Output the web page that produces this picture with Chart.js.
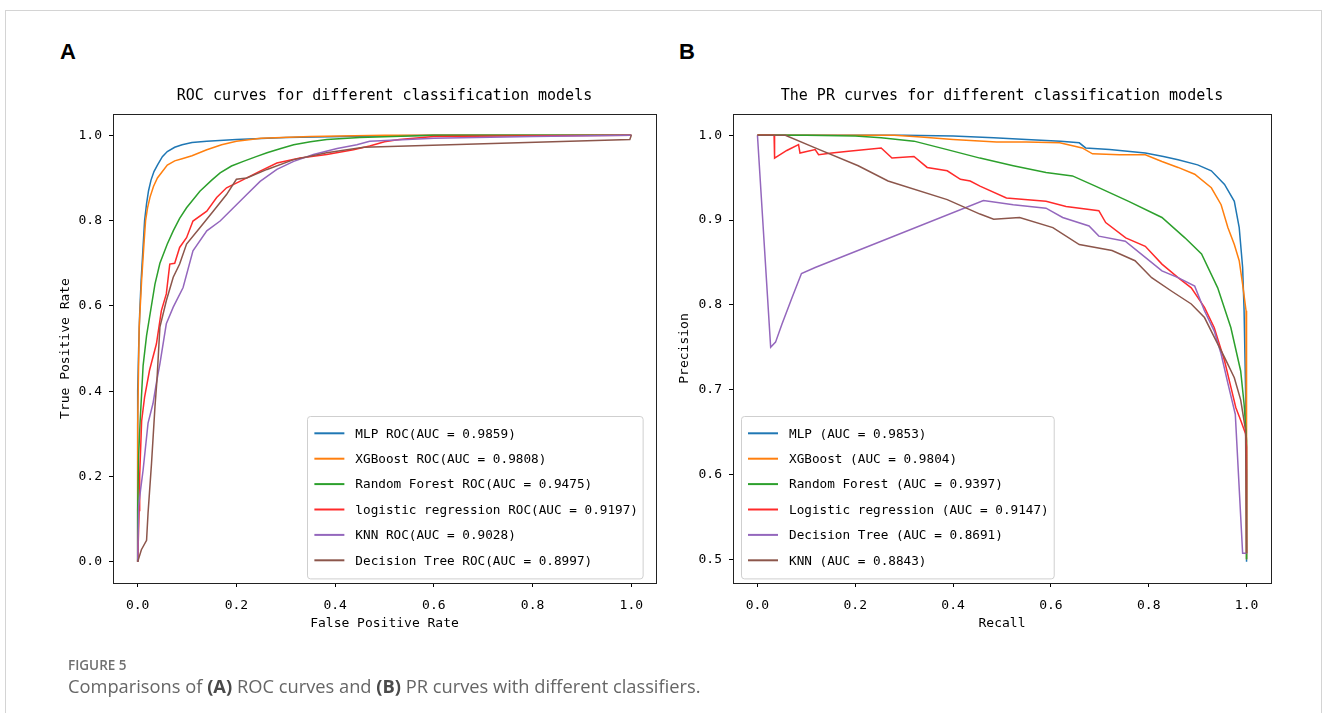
<!DOCTYPE html>
<html>
<head>
<meta charset="utf-8">
<script src="https://cdn.jsdelivr.net/npm/chart.js@4.4.1/dist/chart.umd.min.js"></script>
<style>
  body { margin: 0; background: #fff; width: 1330px; height: 713px; overflow: hidden; position: relative; }
  #frame { position: absolute; left: 5px; top: 10px; width: 1315px; height: 720px; border: 1px solid #d4d4d4; }
  .letter { position: absolute; top: 39px; font: bold 22px "Liberation Sans", Arial, sans-serif; color: #000; }
  .box { position: absolute; top: 70px; }
  #fig { position: absolute; left: 68px; top: 656px; font: 600 13.5px "Open Sans", sans-serif; color: #707070; }
  #cap { position: absolute; left: 68px; top: 673px; font: 18.3px "Open Sans", sans-serif; color: #666; }
  #cap b { font-weight: 700; color: #4a4a4a; }
</style>
</head>
<body>
<div id="frame"></div>
<div class="letter" style="left:60px">A</div>
<div class="letter" style="left:679px">B</div>
<div class="box" style="left:20px"><canvas id="rocChart" width="650" height="590"></canvas></div>
<div class="box" style="left:670px"><canvas id="prChart" width="640" height="590"></canvas></div>
<div id="fig">FIGURE 5</div>
<div id="cap">Comparisons of <b>(A)</b> ROC curves and <b>(B)</b> PR curves with different classifiers.</div>

<script>
// ---- data ----
var axisTicks = [0, 0.2, 0.4, 0.6, 0.8, 1.0];
var prYTicks = [0.5, 0.6, 0.7, 0.8, 0.9, 1.0];

var rocLabels = ['MLP ROC(AUC = 0.9859)', 'XGBoost ROC(AUC = 0.9808)', 'Random Forest ROC(AUC = 0.9475)',
                 'logistic regression ROC(AUC = 0.9197)', 'KNN ROC(AUC = 0.9028)', 'Decision Tree ROC(AUC = 0.8997)'];
var prLabels = ['MLP (AUC = 0.9853)', 'XGBoost (AUC = 0.9804)', 'Random Forest (AUC = 0.9397)',
                'Logistic regression (AUC = 0.9147)', 'Decision Tree (AUC = 0.8691)', 'KNN (AUC = 0.8843)'];
var colors = ['#1f77b4', '#ff7f0e', '#2ca02c', '#ff2a2a', '#9467bd', '#8c564b'];

// ROC curves (false positive rate / true positive rate)
var mlpFpr = [0, 0, 0.002, 0.004, 0.007, 0.01, 0.014, 0.018, 0.022, 0.027, 0.033, 0.04, 0.05, 0.06, 0.075, 0.09, 0.11, 0.14, 0.2, 0.3, 0.45, 0.6, 1.0];
var mlpTpr = [0, 0.4, 0.5, 0.58, 0.66, 0.72, 0.80, 0.84, 0.87, 0.895, 0.915, 0.93, 0.95, 0.962, 0.972, 0.978, 0.983, 0.986, 0.99, 0.995, 0.998, 1.0, 1.0];
var xgbFpr = [0, 0, 0.003, 0.008, 0.013, 0.016, 0.02, 0.025, 0.032, 0.04, 0.05, 0.06, 0.075, 0.09, 0.11, 0.14, 0.17, 0.2, 0.25, 0.35, 0.5, 1.0];
var xgbTpr = [0, 0.32, 0.55, 0.66, 0.75, 0.80, 0.83, 0.855, 0.88, 0.90, 0.915, 0.93, 0.94, 0.945, 0.952, 0.966, 0.978, 0.986, 0.993, 0.997, 1.0, 1.0];
var rfFpr = [0, 0, 0.002, 0.005, 0.011, 0.018, 0.024, 0.035, 0.045, 0.06, 0.072, 0.085, 0.099, 0.126, 0.15, 0.167, 0.19, 0.214, 0.24, 0.262, 0.29, 0.316, 0.35, 0.383, 0.45, 0.6, 1.0];
var rfTpr = [0, 0.12, 0.25, 0.33, 0.46, 0.53, 0.573, 0.651, 0.70, 0.745, 0.776, 0.805, 0.83, 0.869, 0.895, 0.912, 0.928, 0.939, 0.95, 0.959, 0.969, 0.978, 0.985, 0.99, 0.995, 1.0, 1.0];
var lrFpr = [0, 0.003, 0.004, 0.008, 0.014, 0.024, 0.038, 0.048, 0.058, 0.065, 0.075, 0.085, 0.099, 0.112, 0.14, 0.16, 0.18, 0.207, 0.248, 0.282, 0.329, 0.383, 0.437, 0.47, 0.5, 0.53, 0.6, 1.0];
var lrTpr = [0, 0.12, 0.2, 0.33, 0.386, 0.449, 0.511, 0.589, 0.628, 0.698, 0.70, 0.737, 0.76, 0.799, 0.822, 0.854, 0.877, 0.892, 0.916, 0.935, 0.947, 0.955, 0.966, 0.975, 0.985, 0.99, 0.997, 1.0];
var knnFpr = [0, 0.002, 0.006, 0.011, 0.021, 0.031, 0.038, 0.045, 0.058, 0.072, 0.092, 0.112, 0.14, 0.167, 0.194, 0.221, 0.248, 0.282, 0.316, 0.356, 0.404, 0.444, 0.47, 0.6, 0.8, 1.0];
var knnTpr = [0, 0.13, 0.17, 0.215, 0.325, 0.371, 0.42, 0.464, 0.558, 0.597, 0.643, 0.729, 0.776, 0.799, 0.83, 0.861, 0.892, 0.92, 0.939, 0.955, 0.969, 0.978, 0.986, 0.993, 0.997, 1.0];
var dtFpr = [0, 0.0075, 0.018, 0.021, 0.028, 0.035, 0.039, 0.045, 0.058, 0.072, 0.085, 0.099, 0.126, 0.153, 0.18, 0.2, 0.221, 0.262, 0.316, 0.383, 0.458, 0.997, 1.0];
var dtTpr = [0, 0.028, 0.05, 0.114, 0.23, 0.363, 0.425, 0.55, 0.612, 0.667, 0.698, 0.745, 0.783, 0.822, 0.861, 0.897, 0.90, 0.92, 0.943, 0.959, 0.972, 0.99, 1.0];

// PR curves (recall / precision)
var mlpRec = [0, 0.1, 0.2, 0.3, 0.4, 0.483, 0.55, 0.62, 0.658, 0.671, 0.72, 0.793, 0.83, 0.86, 0.9, 0.928, 0.955, 0.975, 0.985, 0.992, 0.995, 0.998, 1.0, 1.0];
var mlpPrec = [1, 1, 1, 1, 0.999, 0.997, 0.995, 0.993, 0.991, 0.985, 0.983, 0.979, 0.975, 0.971, 0.965, 0.958, 0.942, 0.922, 0.891, 0.844, 0.793, 0.70, 0.60, 0.497];
var xgbRec = [0, 0.1, 0.2, 0.28, 0.334, 0.40, 0.489, 0.55, 0.618, 0.664, 0.685, 0.74, 0.793, 0.827, 0.86, 0.894, 0.928, 0.948, 0.962, 0.975, 0.985, 0.992, 0.999, 1.0, 1.0];
var xgbPrec = [1, 1, 1, 1, 0.998, 0.995, 0.992, 0.992, 0.991, 0.985, 0.978, 0.977, 0.977, 0.969, 0.962, 0.954, 0.938, 0.918, 0.891, 0.871, 0.852, 0.824, 0.793, 0.65, 0.50];
var rfRec = [0, 0.1, 0.2, 0.253, 0.32, 0.388, 0.455, 0.523, 0.59, 0.644, 0.691, 0.759, 0.827, 0.874, 0.908, 0.941, 0.968, 0.988, 0.995, 1.0, 1.0];
var rfPrec = [1, 1, 0.999, 0.997, 0.993, 0.983, 0.973, 0.964, 0.956, 0.952, 0.94, 0.922, 0.903, 0.879, 0.86, 0.82, 0.773, 0.722, 0.683, 0.64, 0.5];
var lrRec = [0, 0.034, 0.035, 0.06, 0.084, 0.087, 0.118, 0.125, 0.152, 0.186, 0.253, 0.275, 0.32, 0.347, 0.388, 0.415, 0.435, 0.455, 0.509, 0.59, 0.631, 0.698, 0.712, 0.753, 0.793, 0.827, 0.86, 0.887, 0.914, 0.934, 0.955, 0.968, 0.978, 0.988, 0.998, 1.0, 1.0];
var lrPrec = [1, 1, 0.973, 0.982, 0.989, 0.979, 0.983, 0.977, 0.979, 0.981, 0.985, 0.973, 0.975, 0.962, 0.958, 0.948, 0.946, 0.94, 0.926, 0.922, 0.916, 0.911, 0.897, 0.879, 0.869, 0.848, 0.832, 0.82, 0.797, 0.773, 0.734, 0.703, 0.679, 0.664, 0.648, 0.632, 0.507];
var dtRec = [0, 0.027, 0.037, 0.05, 0.071, 0.09, 0.118, 0.253, 0.462, 0.523, 0.59, 0.624, 0.678, 0.698, 0.752, 0.793, 0.827, 0.86, 0.894, 0.914, 0.934, 0.948, 0.962, 0.972, 0.977, 0.992, 1.0];
var dtPrec = [1, 0.75, 0.756, 0.777, 0.809, 0.837, 0.844, 0.875, 0.923, 0.918, 0.914, 0.903, 0.893, 0.881, 0.875, 0.856, 0.84, 0.832, 0.822, 0.793, 0.769, 0.742, 0.707, 0.683, 0.671, 0.507, 0.507];
var knnRec = [0, 0.057, 0.118, 0.206, 0.267, 0.388, 0.455, 0.483, 0.536, 0.604, 0.658, 0.725, 0.772, 0.806, 0.847, 0.887, 0.914, 0.934, 0.955, 0.975, 0.988, 0.998, 1.0];
var knnPrec = [1, 1, 0.985, 0.964, 0.946, 0.924, 0.907, 0.901, 0.903, 0.891, 0.871, 0.864, 0.852, 0.832, 0.816, 0.801, 0.785, 0.762, 0.738, 0.714, 0.688, 0.652, 0.507];

var MONO = '"DejaVu Sans Mono", "Liberation Mono", monospace';

function pts(xs, ys) {
    return xs.map(function (v, i) { return {x: v, y: ys[i]}; });
}

function makeDatasets(labels, curves) {
    return labels.map(function (label, i) {
        return {
            label: label,
            data: pts(curves[i][0], curves[i][1]),
            borderColor: colors[i],
            backgroundColor: colors[i],
            borderWidth: 1.5,
            pointRadius: 0,
            fill: false,
            tension: 0,
            order: labels.length - i   // first series at the bottom, like matplotlib
        };
    });
}

function axis(title, min, max, ticks, size, vertical) {
    return {
        type: 'linear',
        min: min,
        max: max,
        afterBuildTicks: function (s) { s.ticks = ticks.map(function (v) { return {value: v}; }); },
        afterFit: function (s) { if (vertical) s.width = size; else s.height = size; },
        ticks: {
            color: '#000', font: {family: MONO, size: 13}, padding: vertical ? 7 : 11,
            autoSkip: false, maxRotation: 0,
            callback: function (v) { return Number(v).toFixed(1); }
        },
        grid: {drawOnChartArea: false, drawTicks: true, tickLength: 4, color: '#000'},
        border: {display: false},
        title: {display: true, text: title, color: '#000', font: {family: MONO, size: 13}, padding: 0}
    };
}

// plot frame, title above the axes and the matplotlib-style legend inside them
var panelPlugin = {
    id: 'panel',
    afterDraw: function (chart, args, o) {
        var ctx = chart.ctx, a = chart.chartArea;
        ctx.save();
        ctx.strokeStyle = '#222';
        ctx.lineWidth = 1;
        ctx.strokeRect(Math.round(a.left) + 0.5, Math.round(a.top) + 0.5,
                       Math.round(a.right - a.left), Math.round(a.bottom - a.top));

        ctx.fillStyle = '#000';
        ctx.font = '15px ' + MONO;
        ctx.textAlign = 'center';
        ctx.textBaseline = 'middle';
        ctx.fillText(o.title, (a.left + a.right) / 2, a.top - 18);

        ctx.font = '12.7px ' + MONO;
        var sets = chart.data.datasets;
        var textW = Math.max.apply(null, sets.map(function (d) { return ctx.measureText(d.label).width; }));
        var pad = 7, lineLen = 30, gap = 11, rowH = 25.4;
        var w = pad + lineLen + gap + textW + 5;
        var h = 10 + rowH * sets.length;
        var x = o.legendSide === 'right' ? a.right - o.legendDx - w : a.left + o.legendDx;
        var y = a.bottom - o.legendDy - h;
        ctx.fillStyle = 'rgba(255,255,255,0.85)';
        ctx.strokeStyle = '#cfcfcf';
        ctx.beginPath();
        if (ctx.roundRect) ctx.roundRect(Math.round(x) + 0.5, Math.round(y) + 0.5, w, h, 3);
        else ctx.rect(Math.round(x) + 0.5, Math.round(y) + 0.5, w, h);
        ctx.fill();
        ctx.stroke();

        ctx.textAlign = 'left';
        sets.forEach(function (d, i) {
            var cy = y + 5 + rowH * (i + 0.5);
            ctx.strokeStyle = d.borderColor;
            ctx.lineWidth = 2;
            ctx.beginPath();
            ctx.moveTo(x + pad, cy);
            ctx.lineTo(x + pad + lineLen, cy);
            ctx.stroke();
            ctx.fillStyle = '#000';
            ctx.fillText(d.label, x + pad + lineLen + gap, cy + 1);
        });
        ctx.restore();
    }
};

function buildChart(id, datasets, xAxis, yAxis, padding, panel) {
    return new Chart(document.getElementById(id).getContext('2d'), {
        type: 'line',
        data: {datasets: datasets},
        options: {
            responsive: false,
            animation: false,
            devicePixelRatio: 1,
            layout: {padding: padding},
            scales: {x: xAxis, y: yAxis},
            plugins: {
                legend: {display: false},
                tooltip: {enabled: false},
                panel: panel
            }
        },
        plugins: [panelPlugin]
    });
}

document.addEventListener('DOMContentLoaded', function () {
    buildChart('rocChart',
        makeDatasets(rocLabels, [[mlpFpr, mlpTpr], [xgbFpr, xgbTpr], [rfFpr, rfTpr], [lrFpr, lrTpr], [knnFpr, knnTpr], [dtFpr, dtTpr]]),
        axis('False Positive Rate', -0.05, 1.05, axisTicks, 48, false),
        axis('True Positive Rate', -0.05, 1.05, axisTicks, 55, true),
        {left: 38, right: 14, top: 44, bottom: 29},
        {title: 'ROC curves for different classification models', legendSide: 'right', legendDx: 13, legendDy: 5});

    buildChart('prChart',
        makeDatasets(prLabels, [[mlpRec, mlpPrec], [xgbRec, xgbPrec], [rfRec, rfPrec], [lrRec, lrPrec], [dtRec, dtPrec], [knnRec, knnPrec]]),
        axis('Recall', -0.05, 1.05, axisTicks, 48, false),
        axis('Precision', 0.472, 1.025, prYTicks, 56, true),
        {left: 7, right: 39, top: 44, bottom: 29},
        {title: 'The PR curves for different classification models', legendSide: 'left', legendDx: 8, legendDy: 5});
});
</script>
</body>
</html>
